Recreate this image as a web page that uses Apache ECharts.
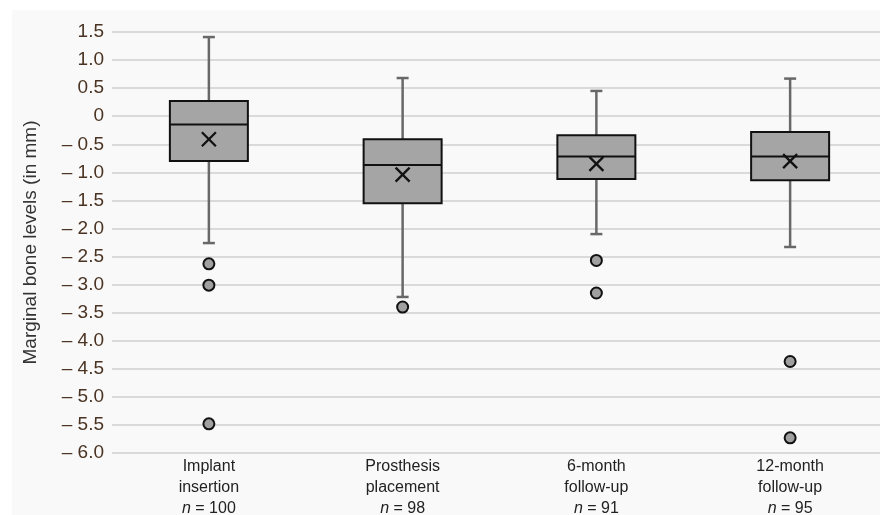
<!DOCTYPE html>
<html>
<head>
<meta charset="utf-8">
<script src="https://cdn.jsdelivr.net/npm/echarts@6/dist/echarts.min.js"></script>
<style>
  html, body { margin: 0; padding: 0; background: #fff; }
  #chart { width: 880px; height: 515px; }
</style>
</head>
<body>
<div id="chart"></div>
<script>
// categories and sample sizes
var categories = ['Implant\ninsertion', 'Prosthesis\nplacement', '6-month\nfollow-up', '12-month\nfollow-up'];
var sampleSizes = [100, 98, 91, 95];

// box statistics (mm)
var whiskerLow = [-2.26, -3.22, -2.10, -2.33];
var q1Values = [-0.80, -1.55, -1.12, -1.14];
var medians = [-0.15, -0.87, -0.72, -0.72];
var q3Values = [0.27, -0.41, -0.34, -0.28];
var whiskerHigh = [1.41, 0.68, 0.45, 0.67];
var means = [-0.41, -1.04, -0.85, -0.80];

// outliers as [category index, value]
var outliers = [
	[0, -2.63], [0, -3.01], [0, -5.48],
	[1, -3.40],
	[2, -2.57], [2, -3.15],
	[3, -4.37], [3, -5.73]
];

var yTicks = { min: -6, max: 1.5, step: 0.5 };

var boxData = categories.map(function (c, i) {
	return [i, whiskerLow[i], q1Values[i], medians[i], q3Values[i], whiskerHigh[i], means[i]];
});

function fmtTick(v) {
	if (Math.abs(v) < 1e-9) return '0';
	if (v < 0) return '\u2013 ' + Math.abs(v).toFixed(1);
	return v.toFixed(1);
}

var myChart = echarts.init(document.getElementById('chart'));

function renderBox(params, api) {
	var x = api.value(0);
	var pLow = api.coord([x, api.value(1)]);
	var pQ1 = api.coord([x, api.value(2)]);
	var pMed = api.coord([x, api.value(3)]);
	var pQ3 = api.coord([x, api.value(4)]);
	var pHigh = api.coord([x, api.value(5)]);
	var pMean = api.coord([x, api.value(6)]);
	var cx = pMed[0];
	var half = 39; // 盒子半宽
	var cap = 6;
	var m = 7; // × 半宽
	var whisker = { stroke: '#686868', lineWidth: 2.5 };
	var black = { stroke: '#111', lineWidth: 2 };
	return {
		type: 'group',
		children: [
			{ type: 'line', shape: { x1: cx, y1: pHigh[1], x2: cx, y2: pQ3[1] }, style: whisker },
			{ type: 'line', shape: { x1: cx, y1: pQ1[1], x2: cx, y2: pLow[1] }, style: whisker },
			{ type: 'line', shape: { x1: cx - cap, y1: pHigh[1], x2: cx + cap, y2: pHigh[1] }, style: whisker },
			{ type: 'line', shape: { x1: cx - cap, y1: pLow[1], x2: cx + cap, y2: pLow[1] }, style: whisker },
			{
				type: 'rect',
				shape: { x: cx - half, y: pQ3[1], width: half * 2, height: pQ1[1] - pQ3[1] },
				style: { fill: '#a5a5a5', stroke: '#111', lineWidth: 2 }
			},
			{ type: 'line', shape: { x1: cx - half, y1: pMed[1], x2: cx + half, y2: pMed[1] }, style: black },
			{ type: 'line', shape: { x1: cx - m, y1: pMean[1] - m, x2: cx + m, y2: pMean[1] + m }, style: { stroke: '#111', lineWidth: 2.3 } },
			{ type: 'line', shape: { x1: cx - m, y1: pMean[1] + m, x2: cx + m, y2: pMean[1] - m }, style: { stroke: '#111', lineWidth: 2.3 } }
		]
	};
}

var option = {
	backgroundColor: '#ffffff',
	animation: false,
	graphic: {
		elements: [{
			type: 'rect',
			z: -100,
			silent: true,
			shape: { x: 12, y: 10, width: 868, height: 505 },
			style: { fill: '#f9f9f9' }
		}]
	},
	grid: {
		left: 112,
		right: -7,
		top: 32,
		bottom: 62,
		outerBoundsMode: 'none'
	},
	xAxis: {
		type: 'category',
		data: categories,
		axisLine: { show: false },
		axisTick: { show: false },
		axisLabel: {
			interval: 0,
			margin: 3,
			color: '#222',
			fontFamily: 'Liberation Sans, Arial, sans-serif',
			fontSize: 16,
			lineHeight: 21,
			formatter: function (v, i) {
				return v + '\n{i|n} = ' + sampleSizes[i];
			},
			rich: {
				i: { fontStyle: 'italic', fontSize: 16, color: '#222', fontFamily: 'Liberation Sans, Arial, sans-serif', lineHeight: 21 }
			}
		},
		splitLine: { show: false }
	},
	yAxis: {
		type: 'value',
		min: yTicks.min,
		max: yTicks.max,
		interval: yTicks.step,
		name: 'Marginal bone levels (in mm)',
		nameLocation: 'middle',
		nameGap: 72,
		nameTextStyle: {
			color: '#333',
			fontSize: 19,
			fontFamily: 'Liberation Sans, Arial, sans-serif'
		},
		axisLine: { show: false },
		axisTick: { show: false },
		axisLabel: {
			margin: 8,
			color: '#4a3322',
			fontSize: 19,
			fontFamily: 'Liberation Sans, Arial, sans-serif',
			formatter: fmtTick
		},
		splitLine: {
			lineStyle: { color: '#dadada', width: 2 }
		}
	},
	series: [{
		type: 'custom',
		renderItem: renderBox,
		data: boxData,
		encode: { x: 0, y: [1, 2, 3, 4, 5, 6] },
		z: 3
	}, {
		type: 'scatter',
		data: outliers,
		symbol: 'circle',
		symbolSize: 11,
		itemStyle: { color: '#a0a0a0', borderColor: '#111', borderWidth: 2, opacity: 1 },
		z: 4
	}]
};

myChart.setOption(option);
</script>
</body>
</html>
